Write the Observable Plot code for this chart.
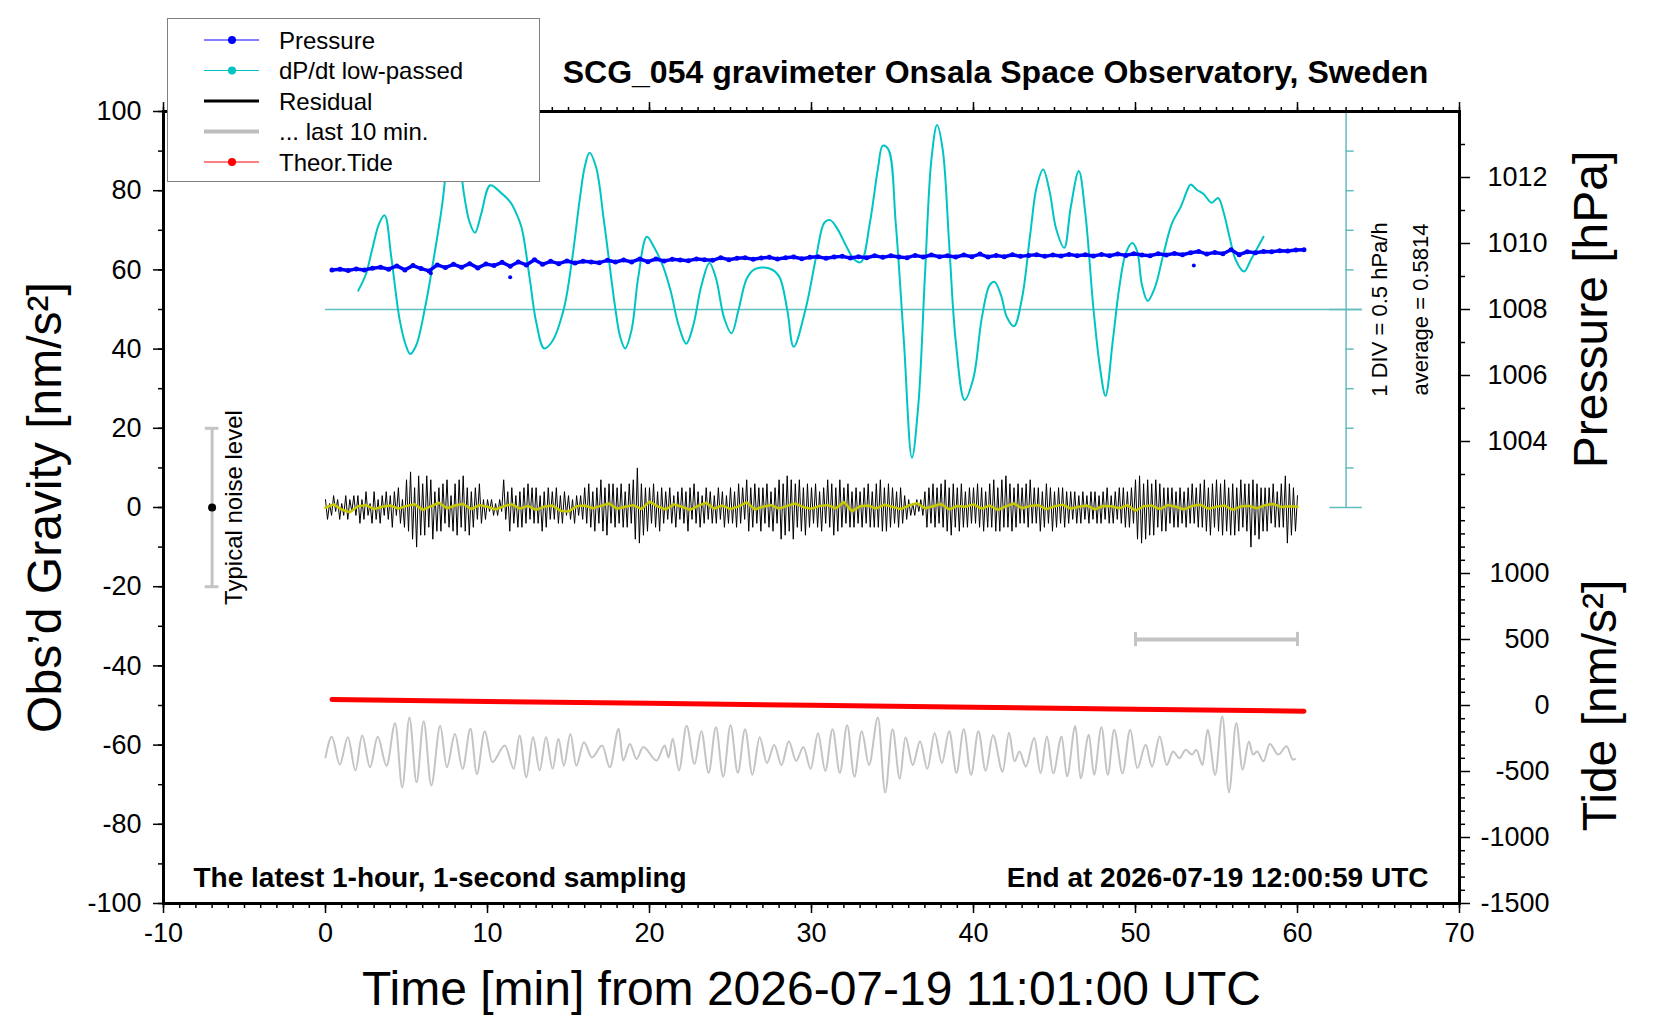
<!DOCTYPE html>
<html><head><meta charset="utf-8">
<script src="https://cdn.jsdelivr.net/npm/d3@7"></script>
<script src="https://cdn.jsdelivr.net/npm/@observablehq/plot@0.6"></script>
<style>
body{margin:0;background:#fff;}
#wrap{position:relative;width:1660px;height:1020px;font-family:"Liberation Sans",Arial,Helvetica,sans-serif;}
#legend{position:absolute;left:167px;top:18px;}
</style></head><body><div id="wrap"></div>
<script>
// ---------- data ----------
const title = "SCG_054 gravimeter Onsala Space Observatory, Sweden";
const xTicks = [-10,0,10,20,30,40,50,60,70];
const gravTicks = [-100,-80,-60,-40,-20,0,20,40,60,80,100];
const pressureTicks = [1004,1006,1008,1010,1012];
const pressureMinorTicks = [1002,1003,1005,1007,1009,1011,1013];
const tideTicks = [-1500,-1000,-500,0,500,1000];
const pressureRange = [1002,1014];      // hPa shown on the upper half (gravity 0..100)
const dpdtAverage = 0.5814;             // hPa/h
const dpdtDiv = 0.5;                    // hPa/h per division

// dP/dt low-passed (hPa/h)
const dpdtTimes = [2.02,2.5,2.87,3.3,3.65,4.05,4.57,4.96,5.23,5.6,
 6.14,6.66,7.18,7.6,7.95,8.3,8.52,8.9,9.23,9.6,
 10.17,10.8,11.4,11.7,12.1,12.6,13.0,13.5,14.0,14.7,
 15.2,15.7,16.0,16.3,16.7,17.2,17.9,18.2,18.5,18.9,
 19.3,19.84,20.3,20.85,21.3,21.8,22.27,22.7,23.2,23.7,
 24.1,24.6,25.06,25.5,26.0,26.5,27.4,28.0,28.5,28.9,
 29.65,30.3,30.8,31.15,31.6,32.1,32.65,33.05,33.6,34.1,
 34.4,34.75,35.2,35.7,36.2,36.6,37.0,37.4,37.75,38.1,
 38.5,38.9,39.45,40.0,40.5,41.0,41.3,41.7,42.05,42.5,
 43.0,43.5,43.9,44.3,44.7,45.1,45.6,46.0,46.5,46.9,
 47.4,47.8,48.15,48.6,49.0,49.4,49.8,50.1,50.4,50.75,
 51.2,51.7,52.25,52.8,53.2,53.4,53.8,54.2,54.7,55.1,
 55.45,55.8,56.2,56.7,57.1,57.9];
const dpdtValues = [0.82,1.03,1.33,1.66,1.77,1.26,0.46,0.13,0.02,0.13,
 0.60,1.20,1.87,2.58,2.88,2.48,2.08,1.68,1.55,1.78,
 2.15,2.06,1.94,1.83,1.62,0.98,0.43,0.09,0.18,0.58,
 1.18,1.98,2.38,2.56,2.38,1.68,0.58,0.23,0.09,0.33,
 0.98,1.50,1.36,1.12,0.82,0.38,0.15,0.38,0.88,1.17,
 0.98,0.48,0.28,0.58,0.97,1.09,1.10,1.00,0.58,0.11,
 0.60,1.26,1.68,1.71,1.60,1.40,1.21,1.18,1.67,2.36,
 2.65,2.60,1.67,0.19,-1.29,-0.61,1.00,2.47,2.91,2.60,
 1.40,0.19,-0.56,-0.28,0.46,0.89,0.93,0.76,0.49,0.37,
 0.73,1.53,2.13,2.35,2.07,1.60,1.36,1.87,2.33,1.80,
 0.60,-0.14,-0.51,0.19,0.86,1.29,1.42,1.32,0.89,0.69,
 0.86,1.26,1.67,1.88,2.09,2.16,2.09,2.04,1.93,1.99,
 1.80,1.50,1.20,1.06,1.20,1.50];

// Pressure (hPa), sampled every 0.5 min from 0.4 min
const pressureStart = 0.4, pressureStep = 0.5;
const pressureValues = [1009.20,1009.22,1009.18,1009.23,1009.20,1009.25,1009.28,1009.22,1009.32,1009.20,
 1009.33,1009.24,1009.17,1009.35,1009.27,1009.37,1009.28,1009.39,1009.26,1009.38,
 1009.33,1009.43,1009.31,1009.44,1009.35,1009.51,1009.37,1009.46,1009.39,1009.47,
 1009.41,1009.46,1009.44,1009.42,1009.49,1009.44,1009.50,1009.44,1009.53,1009.45,
 1009.53,1009.47,1009.52,1009.50,1009.48,1009.53,1009.51,1009.49,1009.57,1009.51,
 1009.55,1009.57,1009.52,1009.56,1009.58,1009.53,1009.57,1009.59,1009.54,1009.58,
 1009.60,1009.55,1009.59,1009.61,1009.56,1009.60,1009.57,1009.63,1009.58,1009.63,
 1009.59,1009.57,1009.64,1009.59,1009.65,1009.60,1009.63,1009.59,1009.65,1009.60,
 1009.68,1009.59,1009.64,1009.60,1009.66,1009.61,1009.64,1009.66,1009.61,1009.65,
 1009.62,1009.67,1009.63,1009.66,1009.62,1009.67,1009.63,1009.68,1009.64,1009.69,
 1009.65,1009.63,1009.69,1009.65,1009.70,1009.66,1009.72,1009.76,1009.68,1009.73,
 1009.69,1009.81,1009.66,1009.75,1009.72,1009.76,1009.75,1009.78,1009.77,1009.80,
 1009.81];
const pressureOutliers = [[6.5,1009.10],[11.4,1008.98],[53.6,1009.33]];

// Residual (nm/s^2), every 0.125 min from 0
const residualStep = 0.125;
const residualValues = [
 2,-3,1,-2,3,-1,2,-3, 1,-2,3,-3,2,-1,3,-2, 3,-4,2,-3,4,-2,1,-4, 4,-3,2,-4,3,-2,4,-3,
 3,-5,4,-2,5,-4,2,-5, 7,-6,9,-8,5,-10,8,-7, 6,-7,8,-5,7,-8,4,-6, 5,-6,6,-4,7,-5,3,-6,
 6,-7,7,-5,8,-6,5,-7, 4,-5,5,-3,6,-4,2,-3, 2,-1,2,-2,1,-2,2,-1, 7,-3,4,-6,5,-4,3,-5,
 4,-5,5,-4,6,-3,5,-4, 5,-4,3,-6,4,-5,5,-3, 4,-3,5,-4,3,-4,4,-2, 3,-3,2,-4,3,-2,3,-3,
 5,-4,6,-5,4,-6,5,-4, 7,-6,5,-7,6,-4,6,-5, 5,-4,6,-5,4,-5,6,-4, 7,-8,10,-9,6,-7,5,-6,
 5,-4,6,-5,4,-6,5,-4, 4,-3,5,-4,3,-5,4,-3, 5,-4,4,-6,5,-3,6,-4, 4,-5,3,-4,5,-3,4,-4,
 3,-4,5,-3,4,-5,3,-4, 5,-4,4,-5,6,-4,5,-3, 7,-6,5,-5,6,-4,5,-6, 5,-4,6,-5,4,-6,5,-4,
 7,-8,6,-7,8,-6,7,-8, 6,-5,7,-6,5,-7,6,-5, 5,-4,6,-5,4,-6,5,-4, 7,-5,6,-7,5,-6,7,-5,
 5,-4,6,-5,4,-5,5,-4, 4,-5,5,-4,6,-5,4,-5, 6,-5,7,-6,5,-6,6,-5, 5,-4,4,-5,5,-4,3,-3,
 2,-2,1,-2,2,-1,2,-2, 4,-5,5,-4,6,-5,5,-4, 6,-5,7,-6,5,-7,6,-5, 5,-6,6,-5,4,-5,5,-4,
 5,-4,6,-5,5,-6,4,-5, 6,-5,7,-6,5,-6,7,-5, 8,-5,6,-6,5,-5,6,-4, 5,-4,6,-5,7,-4,5,-4,
 5,-6,4,-5,6,-4,5,-6, 4,-5,5,-4,5,-5,4,-4, 4,-3,4,-4,3,-4,4,-3, 3,-4,4,-3,4,-4,3,-4,
 4,-3,5,-4,3,-4,4,-3, 5,-4,5,-5,4,-5,5,-4, 7,-8,8,-9,6,-8,7,-7, 6,-7,7,-5,6,-6,5,-6,
 5,-4,5,-5,4,-5,5,-4, 4,-5,5,-4,6,-4,5,-5, 6,-5,7,-6,5,-7,6,-5, 7,-6,6,-7,7,-6,5,-7,
 6,-7,5,-6,7,-5,6,-6, 6,-10,7,-7,6,-8,5,-6, 5,-6,5,-4,6,-5,4,-5, 6,-5,8,-9,6,-7,5,-6,
 3];

// Smoothed residual (nm/s^2), every 0.5 min from 0
const smoothStep = 0.5;
const smoothValues = [0,0.8,-0.5,-1.2,0.3,0.6,-0.4,0.2,0.5,-0.3,
 0.4,0.8,-0.6,0.3,1.2,-0.2,0.5,0.9,-0.4,0.6,
 0.2,-0.5,0.3,0.8,-0.3,0.4,-0.6,0.2,0.5,-0.8,
 -1.0,0.3,0.5,-0.2,0.4,1.0,-0.3,0.2,0.6,-0.4,
 1.5,0.3,-0.5,0.8,0.2,-0.6,0.4,1.2,-0.3,0.5,
 -0.4,0.3,1.3,-0.5,0.2,0.6,-0.3,0.4,1.0,0.1,
 -0.3,0.4,0.6,-0.2,1.4,-0.9,0.3,0.5,-0.3,0.7,
 0.2,-0.4,0.5,1.1,-0.2,0.3,0.9,-0.5,0.4,0.2,
 0.8,-0.3,0.5,-0.6,0.3,1.0,-0.2,0.4,0.6,-0.4,
 0.3,0.7,-0.3,0.2,0.5,-0.5,0.4,0.3,-0.2,0.6,
 -0.8,0.3,0.5,-0.4,0.6,0.2,-0.5,0.4,0.7,-0.3,
 0.2,0.5,-0.6,0.3,0.4,-0.2,0.6,0.9,0.1,0.3,
 0.2];

// Residual of the last 10 min: [seconds, nm/s^2] (drawn stretched over 0..60 min, offset)
const last10Offset = -62;
const last10Stretch = 6;   // 10 min shown over 60 min
const last10 = [[0,-1.1],[3.9,4.1],[8.8,-2.9],[13.8,4.0],[18.5,-4.4],[22.6,4.4],[27.5,-3.6],[32.2,4.1],[37.7,-3.2],[43.0,7.5],
 [47.4,-8.7],[51.8,9.0],[56.2,-7.4],[60.6,8.0],[65.3,-8.2],[70.8,6.9],[74.9,-3.6],[79.9,4.8],[84.6,-4.0],[89.5,6.1],
 [93.4,-5.3],[98.3,5.5],[103.0,-2.3],[110.7,1.9],[116.3,-4.0],[119.8,4.4],[124.0,-6.1],[128.1,4.0],[132.2,-4.4],[136.1,4.0],
 [140.2,-4.0],[143.8,3.6],[147.1,-3.2],[151.2,4.8],[154.8,-3.2],[159.5,2.7],[164.5,-1.1],[170.8,1.9],[175.5,-3.6],[181.0,6.1],
 [183.7,-1.9],[187.9,2.3],[192.0,-1.5],[196.1,1.5],[204.4,-1.9],[209.4,1.9],[211.8,-1.1],[214.3,3.6],[218.2,-4.4],[222.9,6.9],
 [227.8,-2.8],[232,5.5],[236.5,-5.0],[241,6.5],[245.5,-6.0],[250,7.0],[254.5,-5.0],[259,6.0],[263.5,-5.5],[268,4.0],
 [272.5,-2.5],[277,2.0],[281.5,-3.0],[286,3.0],[290.5,-2.0],[295,1.5],[299.5,-4.0],[304,5.0],[308.5,-4.5],[313,6.0],
 [317.5,-5.0],[322,7.0],[326.5,-6.0],[331,5.5],[335.5,-3.0],[341,9.0],[345.5,-10.0],[350,6.0],[354.5,-6.5],[358,4.0],
 [362.5,-3.0],[367,3.0],[371.5,-4.0],[376,5.0],[380.5,-2.5],[385,5.5],[389.5,-5.0],[394,6.0],[398.5,-5.5],[403,5.5],
 [407.5,-4.5],[412,4.5],[418.0,-4.7],[421.9,5.1],[425.3,-2.1],[428.4,0.4],[432.3,-3.4],[437.5,3.8],[441.4,-5.1],[445.3,4.2],
 [449.2,-5.1],[454.4,4.2],[457.7,-5.9],[462.9,6.8],[466.1,-6.4],[471.2,4.6],[474.4,-5.5],[479.0,6.5],[482.9,-5.5],[486.8,5.9],
 [492.0,-5.1],[496.7,5.9],[501.1,-3.8],[506.3,2.1],[510.2,-3.4],[514.9,4.2],[519.3,-3.0],[523.2,0.4],[527.1,-1.3],[531.0,0.8],
 [534.9,-0.4],[537.5,0.8],[541.4,-3.0],[544.5,5.9],[549.2,-5.5],[553.6,9.3],[557.7,-9.9],[562.2,7.6],[566.1,-4.2],[570.0,2.9],
 [572.5,-0.4],[575.1,0.4],[579.0,-2.1],[582.9,2.3],[588.1,-0.4],[593.3,1.7],[597.2,-1.7],[598.5,-1.5]];

// Theoretical tide (nm/s^2)
const tideTimes = [0.4,10,20,30,40,50,60.4];
const tideValues = [45,31,17,2,-13,-28,-43];

// Annotations
const noiseBar = {x: -7, lo: -20, hi: 20};
const last10Span = [50, 60];
const last10BarTide = 500;
const dpdtScaleX = [62, 63, 63.5, 64];

// ---------- transforms into gravity frame ----------
const pToG = p => (p - pressureRange[0]) / (pressureRange[1] - pressureRange[0]) * 100;
const gToP = g => pressureRange[0] + g / 100 * (pressureRange[1] - pressureRange[0]);
const tideG = t => -50 + t / 30;
const gToT = g => (g + 50) * 30;
const dToG = d => 50 + (d - dpdtAverage) / dpdtDiv * 10;

const dpdt = dpdtTimes.map((t, i) => ({t, d: dpdtValues[i]}));
const pressure = pressureValues.map((p, i) => ({t: pressureStart + i * pressureStep, p}));
const outliers = pressureOutliers.map(([t, p]) => ({t, p}));
const residual = residualValues.map((v, i) => ({t: i * residualStep, v}));
const smooth = smoothValues.map((v, i) => ({t: i * smoothStep, v}));
const gray = last10.map(([s, v]) => ({t: s / 60 * last10Stretch, v}));
const tide = tideTimes.map((t, i) => ({t, v: tideValues[i]}));
const divs = d3.range(-5, 6);
const tideMinor = d3.range(-1500, 1500, 100).filter(t => t % 500 !== 0);

const cyan = "#00c4c4", cyanAxis = "#62bdbd", grayC = "#c4c4c4";
const intStr = d => String(Math.round(d));
const blank = () => "";
const mid = {textAnchor: "middle", lineAnchor: "middle"};

const chart = Plot.plot({
  width: 1660, height: 1020,
  marginLeft: 163, marginRight: 201, marginTop: 111, marginBottom: 117,
  x: {domain: [-10, 70]},
  y: {domain: [-100, 100]},
  style: {fontFamily: '"Liberation Sans", Arial, Helvetica, sans-serif', fontSize: "27px", background: "white", color: "black", overflow: "visible"},
  marks: [
    // dP/dt scale
    Plot.ruleY([dpdtAverage], {y: dToG, x1: 0, x2: dpdtScaleX[3], stroke: cyanAxis, strokeWidth: 1.5}),
    Plot.ruleX([dpdtScaleX[1]], {y1: dToG(dpdtAverage - 5 * dpdtDiv), y2: dToG(dpdtAverage + 5 * dpdtDiv), stroke: cyanAxis, strokeWidth: 1.5}),
    Plot.ruleY(divs.filter(k => Math.abs(k) !== 5 && k !== 0), {y: k => dToG(dpdtAverage + k * dpdtDiv), x1: dpdtScaleX[1], x2: dpdtScaleX[2], stroke: cyanAxis, strokeWidth: 1.5}),
    Plot.ruleY([-5, 0, 5], {y: k => dToG(dpdtAverage + k * dpdtDiv), x1: dpdtScaleX[0], x2: dpdtScaleX[3], stroke: cyanAxis, strokeWidth: 1.5}),
    // dP/dt curve
    Plot.line(dpdt, {x: "t", y: d => dToG(d.d), stroke: cyan, strokeWidth: 2, curve: "catmull-rom"}),
    // pressure
    Plot.line(pressure, {x: "t", y: d => pToG(d.p), stroke: "#0000ff", strokeWidth: 3.5}),
    Plot.dot(pressure, {x: "t", y: d => pToG(d.p), r: 2.5, fill: "#0000ff"}),
    Plot.dot(outliers, {x: "t", y: d => pToG(d.p), r: 2, fill: "#0000ff"}),
    // residual
    Plot.line(residual, {x: "t", y: "v", stroke: "black", strokeWidth: 1}),
    Plot.line(smooth, {x: "t", y: "v", stroke: "#c8c800", strokeWidth: 2.5}),
    // tide
    Plot.line(tide, {x: "t", y: d => tideG(d.v), stroke: "#ff0000", strokeWidth: 5}),
    // last 10 minutes
    Plot.line(gray, {x: "t", y: d => d.v + last10Offset, stroke: grayC, strokeWidth: 2, curve: "monotone-x"}),
    Plot.ruleY([last10BarTide], {y: tideG, x1: last10Span[0], x2: last10Span[1], stroke: grayC, strokeWidth: 4}),
    Plot.ruleX(last10Span, {x: d => d, y1: tideG(last10BarTide) - 1.8, y2: tideG(last10BarTide) + 1.8, stroke: grayC, strokeWidth: 3}),
    // noise bar
    Plot.ruleX([noiseBar.x], {y1: noiseBar.lo, y2: noiseBar.hi, stroke: grayC, strokeWidth: 3}),
    Plot.ruleY([noiseBar.lo, noiseBar.hi], {x1: noiseBar.x - 0.42, x2: noiseBar.x + 0.42, stroke: grayC, strokeWidth: 3}),
    Plot.dot([noiseBar], {x: "x", y: 0, r: 4, fill: "black"}),
    Plot.text(["Typical noise level"], {x: noiseBar.x, y: 0, dx: 22, rotate: -90, fontSize: 24, ...mid}),
    // axes
    Plot.axisX({anchor: "bottom", ticks: xTicks, tickSize: 10, tickPadding: 9, tickFormat: intStr, fontSize: 27, label: null, strokeWidth: 1.5}),
    Plot.axisX({anchor: "bottom", ticks: d3.range(-10, 71, 1), tickSize: 5, tickFormat: blank, label: null, strokeWidth: 1.5}),
    Plot.axisX({anchor: "top", ticks: xTicks, tickSize: 10, tickFormat: blank, label: null, strokeWidth: 1.5}),
    Plot.axisX({anchor: "top", ticks: d3.range(-10, 71, 1), tickSize: 5, tickFormat: blank, label: null, strokeWidth: 1.5}),
    Plot.axisY({anchor: "left", ticks: gravTicks, tickSize: 10, tickPadding: 12, tickFormat: intStr, fontSize: 27, label: null, strokeWidth: 1.5}),
    Plot.axisY({anchor: "left", ticks: d3.range(-100, 101, 10), tickSize: 5, tickFormat: blank, label: null, strokeWidth: 1.5}),
    Plot.axisY({anchor: "right", ticks: pressureTicks.map(pToG), tickSize: 10, tickPadding: 78, textAnchor: "end", tickFormat: g => intStr(gToP(g)), fontSize: 27, label: null, strokeWidth: 1.5}),
    Plot.axisY({anchor: "right", ticks: pressureMinorTicks.map(pToG), tickSize: 5, tickFormat: blank, label: null, strokeWidth: 1.5}),
    Plot.axisY({anchor: "right", ticks: tideTicks.map(tideG), tickSize: 10, tickPadding: 80, textAnchor: "end", tickFormat: g => intStr(gToT(g)), fontSize: 27, label: null, strokeWidth: 1.5}),
    Plot.axisY({anchor: "right", ticks: tideMinor.map(tideG), tickSize: 5, tickFormat: blank, label: null, strokeWidth: 1.5}),
    Plot.frame({stroke: "black", strokeWidth: 3}),
    // texts
    Plot.text([title], {frameAnchor: "top", dx: 184, dy: -39, fontSize: 32, fontWeight: "bold", ...mid}),
    Plot.text(["The latest 1-hour, 1-second sampling"], {frameAnchor: "bottom-left", textAnchor: "start", lineAnchor: "middle", dx: 30, dy: -25, fontSize: 28, fontWeight: "bold"}),
    Plot.text(["End at 2026-07-19 12:00:59 UTC"], {frameAnchor: "bottom-right", textAnchor: "end", lineAnchor: "middle", dx: -31, dy: -25, fontSize: 28, fontWeight: "bold"}),
    Plot.text(["Time [min] from 2026-07-19 11:01:00 UTC"], {frameAnchor: "bottom", dy: 86, fontSize: 48, ...mid}),
    Plot.text(["Obs\u2019d Gravity [nm/s\u00b2]"], {frameAnchor: "left", dx: -118, rotate: -90, fontSize: 48, ...mid}),
    Plot.text(["Pressure [hPa]"], {y: pToG(1008), frameAnchor: "right", dx: 132, rotate: -90, fontSize: 48, ...mid}),
    Plot.text(["Tide [nm/s\u00b2]"], {y: tideG(0), frameAnchor: "right", dx: 141, rotate: -90, fontSize: 48, ...mid}),
    Plot.text(["1 DIV = " + dpdtDiv + " hPa/h"], {y: dToG(dpdtAverage), frameAnchor: "right", dx: -80, rotate: -90, fontSize: 22, ...mid}),
    Plot.text(["average = " + dpdtAverage], {y: dToG(dpdtAverage), frameAnchor: "right", dx: -39, rotate: -90, fontSize: 22, ...mid})
  ]
});
document.getElementById("wrap").appendChild(chart);

// ---------- legend (overlay) ----------
const legendItems = [
  {label: "Pressure", color: "#0000ff", width: 1, dot: true},
  {label: "dP/dt low-passed", color: cyan, width: 1, dot: true},
  {label: "Residual", color: "black", width: 3, dot: false},
  {label: "... last 10 min.", color: "#bebebe", width: 4, dot: false},
  {label: "Theor.Tide", color: "#ff0000", width: 1, dot: true}
];
const lg = d3.select("#wrap").append("svg").attr("id", "legend").attr("width", 374).attr("height", 165);
lg.append("rect").attr("x", 0.5).attr("y", 0.5).attr("width", 372).attr("height", 163).attr("fill", "white").attr("stroke", "#808080").attr("stroke-width", 1);
const rows = lg.selectAll("g").data(legendItems).join("g").attr("transform", (d, i) => `translate(0,${22 + i * 30.5})`);
rows.append("line").attr("x1", 37).attr("x2", 92).attr("stroke", d => d.color).attr("stroke-width", d => d.width);
rows.filter(d => d.dot).append("circle").attr("cx", 65).attr("r", 4).attr("fill", d => d.color);
rows.append("text").attr("x", 112).attr("y", 8.5).attr("font-size", 24).attr("font-family", '"Liberation Sans", Arial, sans-serif').text(d => d.label);
</script>
</body></html>
